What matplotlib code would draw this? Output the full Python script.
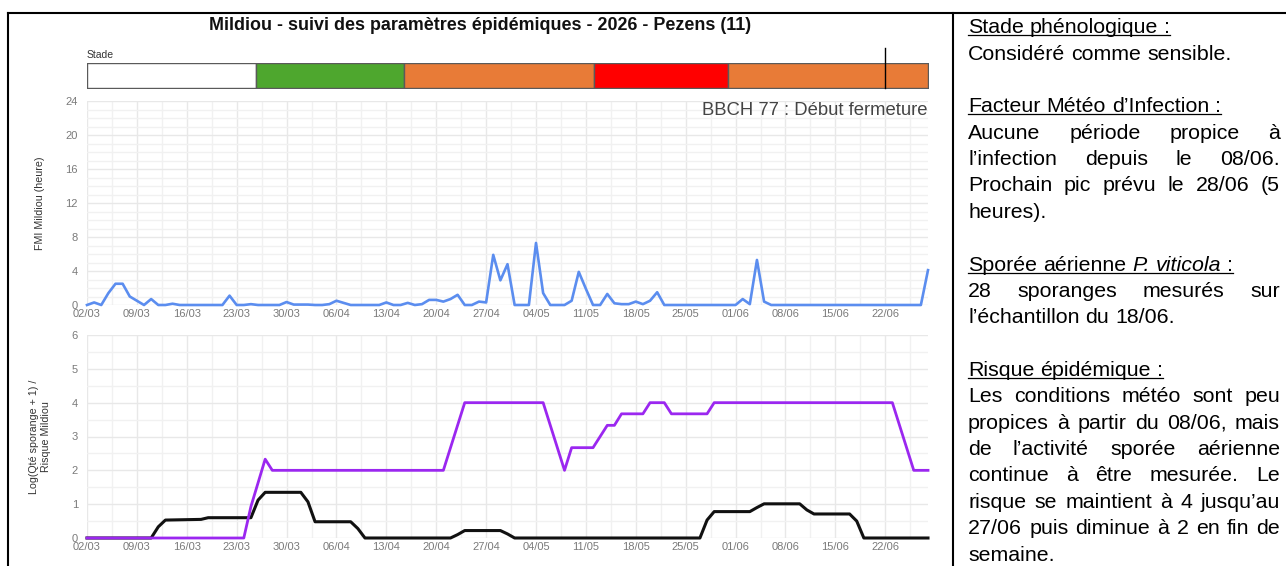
import matplotlib
matplotlib.use("Agg")
import matplotlib.pyplot as plt
from matplotlib.lines import Line2D
from matplotlib.ticker import MultipleLocator, FixedLocator
import datetime as dt

# ---------------- data ----------------
start_date = dt.date(2026, 3, 2)
n_days = 119  # 02/03 -> 28/06

# FMI Mildiou (heure), daily values
fmi_hours = [0, 0.3, 0, 1.4, 2.5, 2.5, 1.0, 0.5, 0, 0.7,
             0, 0, 0.15, 0, 0, 0, 0, 0, 0, 0,
             1.1, 0, 0, 0.1, 0, 0, 0, 0, 0.35, 0.05,
             0.05, 0.05, 0, 0, 0.1, 0.5, 0.25, 0, 0, 0,
             0, 0, 0.3, 0, 0, 0.25, 0, 0.1, 0.6, 0.6,
             0.4, 0.7, 1.2, 0, 0, 0.4, 0.3, 5.9, 2.9, 4.8,
             0, 0, 0, 7.3, 1.4, 0, 0, 0, 0.5, 3.9,
             1.9, 0, 0, 1.3, 0.2, 0.1, 0.1, 0.4, 0.1, 0.5,
             1.5, 0, 0, 0, 0, 0, 0, 0, 0, 0,
             0, 0, 0.7, 0.1, 5.3, 0.4, 0, 0, 0, 0,
             0, 0, 0, 0, 0, 0, 0, 0, 0, 0,
             0, 0, 0, 0, 0, 0, 0, 0, 4.1]

# Risque Mildiou (purple), breakpoints (day index, value)
risk_days = [0, 22, 23, 25, 26, 50, 53, 64, 67, 68, 71, 73, 74, 75, 78, 79, 81, 82, 87, 88, 113, 116, 118]
risk_vals = [0, 0, 0.93, 2.33, 2.0, 2.0, 4, 4, 2.0, 2.67, 2.67, 3.33, 3.33, 3.67, 3.67, 4, 4, 3.67, 3.67, 4, 4, 2, 2]

# Log(Qte sporange + 1) (black), breakpoints (day index, value)
spo_days = [0, 9, 10, 11, 16, 17, 23, 24, 25, 30, 31, 32, 37, 38, 39, 51, 52, 53, 58, 59, 60,
            86, 87, 88, 93, 94, 95, 100, 101, 102, 107, 108, 109, 118]
spo_vals = [0, 0, 0.33, 0.53, 0.55, 0.6, 0.6, 1.12, 1.35, 1.35, 1.07, 0.48, 0.48, 0.28, 0, 0, 0.1, 0.22, 0.22, 0.12, 0,
            0, 0.53, 0.78, 0.78, 0.9, 1.01, 1.01, 0.83, 0.71, 0.71, 0.5, 0, 0]

# Stade bar segments (start day, end day, colour)
stage_starts = [0, 23.7, 44.5, 71.1, 90.0]
stage_ends = [23.7, 44.5, 71.1, 90.0, 118]
stage_colors = ["#ffffff", "#4ea72e", "#e87b37", "#ff0000", "#e87b37"]
today_day = 112

tick_days = list(range(0, 113, 7))
tick_labels = [(start_date + dt.timedelta(days=d)).strftime("%d/%m") for d in tick_days]

title = "Mildiou - suivi des paramètres épidémiques - 2026 - Pezens (11)"
stage_note = "BBCH 77 : Début fermeture"

# ---------------- figure ----------------
W, H = 1286, 566
plt.rcParams["font.family"] = ["Liberation Sans", "DejaVu Sans"]
fig = plt.figure(figsize=(W / 100, H / 100), dpi=100)
fig.patch.set_facecolor("white")


def box(x0, y0, x1, y1):
    return [x0 / W, 1 - y1 / H, (x1 - x0) / W, (y1 - y0) / H]


PX0, PX1 = 87, 928
TICK_C = "#7a7a7a"

# stage bar
ax0 = fig.add_axes(box(PX0, 63, PX1, 88))
for s, e, c in zip(stage_starts, stage_ends, stage_colors):
    ax0.broken_barh([(s, e - s)], (0, 1), facecolors=c, edgecolors="#5a5a5a", linewidth=1.0)
ax0.set_xlim(0, 118)
ax0.set_ylim(0, 1)
ax0.axis("off")
ax0.plot([today_day, today_day], [0, 1.6], color="black", lw=1.0, clip_on=False)
fig.text(PX0 / W, 1 - 55 / H, "Stade", fontsize=7.5, color="#333333", va="center", ha="left")


def style_axes(ax, ymax, ymajor, yminor):
    ax.set_xlim(0, 118)
    ax.set_ylim(0, ymax)
    ax.yaxis.set_major_locator(MultipleLocator(ymajor))
    ax.yaxis.set_minor_locator(MultipleLocator(yminor))
    ax.xaxis.set_major_locator(FixedLocator(tick_days))
    ax.set_xticklabels(tick_labels)
    ax.xaxis.set_minor_locator(FixedLocator([d + 3.5 for d in tick_days]))
    ax.grid(True, which="major", color="#e8e8e8", lw=1.0)
    ax.grid(True, which="minor", color="#f1f1f1", lw=1.0)
    ax.set_axisbelow(True)
    for sp in ax.spines.values():
        sp.set_visible(False)
    ax.tick_params(which="both", length=0, labelsize=8, colors=TICK_C)
    ax.tick_params(axis="x", pad=3.2)
    ax.tick_params(axis="y", pad=6.5)


# top axes: FMI
ax1 = fig.add_axes(box(PX0, 101, PX1, 305))
style_axes(ax1, 24, 4, 1)
ax1.plot(range(n_days), fmi_hours, color="#5b8def", lw=1.9, solid_joinstyle="round", clip_on=False)
ax1.set_ylabel("FMI Mildiou (heure)", fontsize=7.7, color="#333333", labelpad=15)
ax1.text(1.0, 0.955, stage_note, transform=ax1.transAxes, ha="right", va="center",
         fontsize=13.35, color="#444444")

# bottom axes
ax2 = fig.add_axes(box(PX0, 335, PX1, 538))
style_axes(ax2, 6, 1, 0.5)
ax2.plot(spo_days, spo_vals, color="#111111", lw=2.2, solid_joinstyle="round", clip_on=False)
ax2.plot(risk_days, risk_vals, color="#9b27f0", lw=2.0, solid_joinstyle="round", clip_on=False)
ax2.set_ylabel("Log(Qté sporange + 1) /\nRisque Mildiou", fontsize=7.7, color="#333333", labelpad=15)

fig.text(480.5 / W, 1 - 25 / H, title, ha="center", va="center", fontsize=12.9,
         fontweight="bold", color="#111111")

# borders of the table
for (x0, y0, x1, y1) in [(8, 13, 8, 566), (8, 13, 1286, 13), (953, 13, 953, 566)]:
    fig.add_artist(Line2D([x0 / W, x1 / W], [1 - y0 / H, 1 - y1 / H], color="black", lw=1.5,
                          transform=fig.transFigure))

# ---------------- right text panel ----------------
TX0, TX1 = 968, 1280
FS = 15.4
BASE0, PITCH = 33.2, 26.37
renderer = fig.canvas.get_renderer()


def measure(s, style):
    t = fig.text(0, 0, s, fontsize=FS, style=style)
    w = t.get_window_extent(renderer).width
    t.remove()
    return w


SPACE = measure("a a", "normal") - measure("aa", "normal")

N, I = "normal", "italic"
# (line index, text ('|' toggles italic), justified, underlined)
panel = [
    (0, "Stade phénologique :", False, True),
    (1, "Considéré comme sensible.", False, False),
    (3, "Facteur Météo d’Infection :", False, True),
    (4, "Aucune période propice à", True, False),
    (5, "l’infection depuis le 08/06.", True, False),
    (6, "Prochain pic prévu le 28/06 (5", True, False),
    (7, "heures).", False, False),
    (9, "Sporée aérienne |P. viticola| :", False, True),
    (10, "28 sporanges mesurés sur", True, False),
    (11, "l’échantillon du 18/06.", False, False),
    (13, "Risque épidémique :", False, True),
    (14, "Les conditions météo sont peu", True, False),
    (15, "propices à partir du 08/06, mais", True, False),
    (16, "de l’activité sporée aérienne", True, False),
    (17, "continue à être mesurée. Le", True, False),
    (18, "risque se maintient à 4 jusqu’au", True, False),
    (19, "27/06 puis diminue à 2 en fin de", True, False),
    (20, "semaine.", False, False),
]

for idx, line, justify, underline in panel:
    words = []
    for k, part in enumerate(line.split("|")):
        st = I if k % 2 == 1 else N
        for wd in part.split(" "):
            if wd:
                words.append((wd, st))
    widths = [measure(w, s) for w, s in words]
    if justify and len(words) > 1:
        gap = (TX1 - TX0 - sum(widths)) / (len(words) - 1)
    else:
        gap = SPACE
    yb = BASE0 + PITCH * idx
    x = TX0
    for (wd, st), w in zip(words, widths):
        fig.text(x / W, 1 - yb / H, wd, fontsize=FS, style=st, ha="left", va="baseline", color="black")
        x += w + gap
    if underline:
        xe = x - gap
        fig.add_artist(Line2D([TX0 / W, xe / W], [1 - (yb + 2.0) / H, 1 - (yb + 2.0) / H],
                              color="black", lw=0.9, transform=fig.transFigure))

fig.savefig("out.png", dpi=100, facecolor="white")
